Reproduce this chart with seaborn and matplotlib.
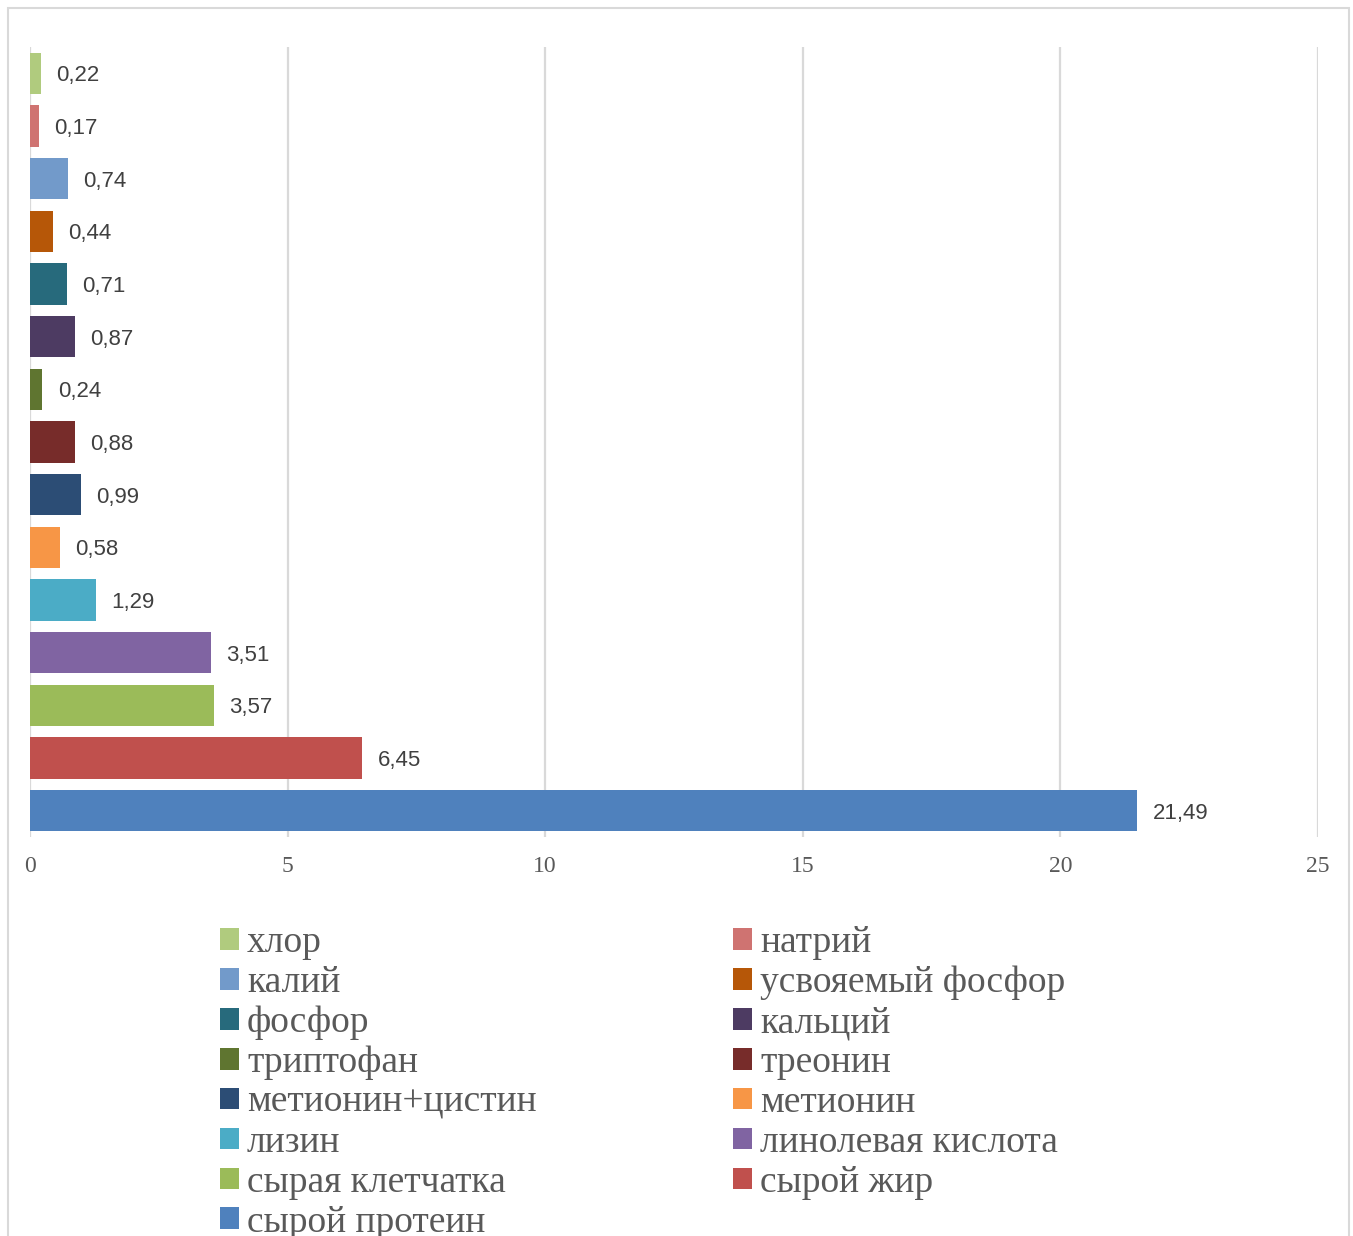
import matplotlib
matplotlib.use("Agg")
import matplotlib.pyplot as plt
from matplotlib.patches import Patch, Rectangle
import seaborn as sns
import pandas as pd

categories = ["хлор", "натрий", "калий", "усвояемый фосфор", "фосфор", "кальций",
              "триптофан", "треонин", "метионин+цистин", "метионин", "лизин",
              "линолевая кислота", "сырая клетчатка", "сырой жир", "сырой протеин"]
values = [0.22, 0.17, 0.74, 0.44, 0.71, 0.87, 0.24, 0.88, 0.99, 0.58, 1.29,
          3.51, 3.57, 6.45, 21.49]
colors = ["#B0CB7E", "#CF7371", "#729ACA", "#B65708", "#276A7C", "#4D3B62",
          "#5F7530", "#772C2A", "#2C4D75", "#F79646", "#4BACC6", "#8064A2",
          "#9BBB59", "#C0504D", "#4F81BD"]
x_ticks = [0, 5, 10, 15, 20, 25]

sns.set_style("white")
plt.rcParams["font.family"] = ["Liberation Serif", "DejaVu Serif"]

W, H = 1353, 1236
fig = plt.figure(figsize=(W / 100, H / 100), dpi=100)
ax = fig.add_axes([30 / W, 1 - 837 / H, (1318 - 30) / W, (837 - 47) / H])

df = pd.DataFrame({"category": categories, "value": values})
palette = dict(zip(categories, colors))
sns.barplot(data=df, x="value", y="category", hue="category", palette=palette,
            orient="h", width=0.78, saturation=1, legend=False, ax=ax,
            linewidth=0, edgecolor="none")

for cont in ax.containers:
    labs = [f"{b.get_width():.2f}".replace(".", ",") for b in cont]
    txts = ax.bar_label(cont, labels=labs, padding=11, fontsize=16, color="#404040",
                        family=["Liberation Sans", "DejaVu Sans"])
    for t in txts:
        t.set_va("center_baseline")

ax.set_xlim(0, 25)
ax.set_xticks(x_ticks)
ax.set_xticklabels([str(t) for t in x_ticks])
ax.set_yticks([])
ax.set_xlabel("")
ax.set_ylabel("")
ax.xaxis.grid(True, color="#D9D9D9", lw=1.6)
ax.set_axisbelow(True)
for s in ax.spines.values():
    s.set_visible(False)
ax.tick_params(axis="x", length=0, pad=14, labelsize=17, labelcolor="#595959")

fig.add_artist(Rectangle((8 / W, -0.02), (1349 - 8) / W, (1236 - 8) / H + 0.02,
                         transform=fig.transFigure, fill=False,
                         edgecolor="#D9D9D9", lw=1.5))

handles = [Patch(facecolor=c, edgecolor="none") for c in colors]
fs = 27
em = fs * 100 / 72
common = dict(loc="upper left", frameon=False, borderpad=0, borderaxespad=0,
              handlelength=19 / em, handleheight=19 / em, handletextpad=8 / em,
              labelspacing=0.143, fontsize=fs, labelcolor="#595959")
left_idx = list(range(0, 15, 2))
right_idx = list(range(1, 15, 2))
leg1 = fig.legend([handles[i] for i in left_idx], [categories[i] for i in left_idx],
                  bbox_to_anchor=(220 / W, 1 - 926 / H), **common)
leg2 = fig.legend([handles[i] for i in right_idx], [categories[i] for i in right_idx],
                  bbox_to_anchor=(733 / W, 1 - 926 / H), **common)

fig.savefig("out.png", dpi=100)
